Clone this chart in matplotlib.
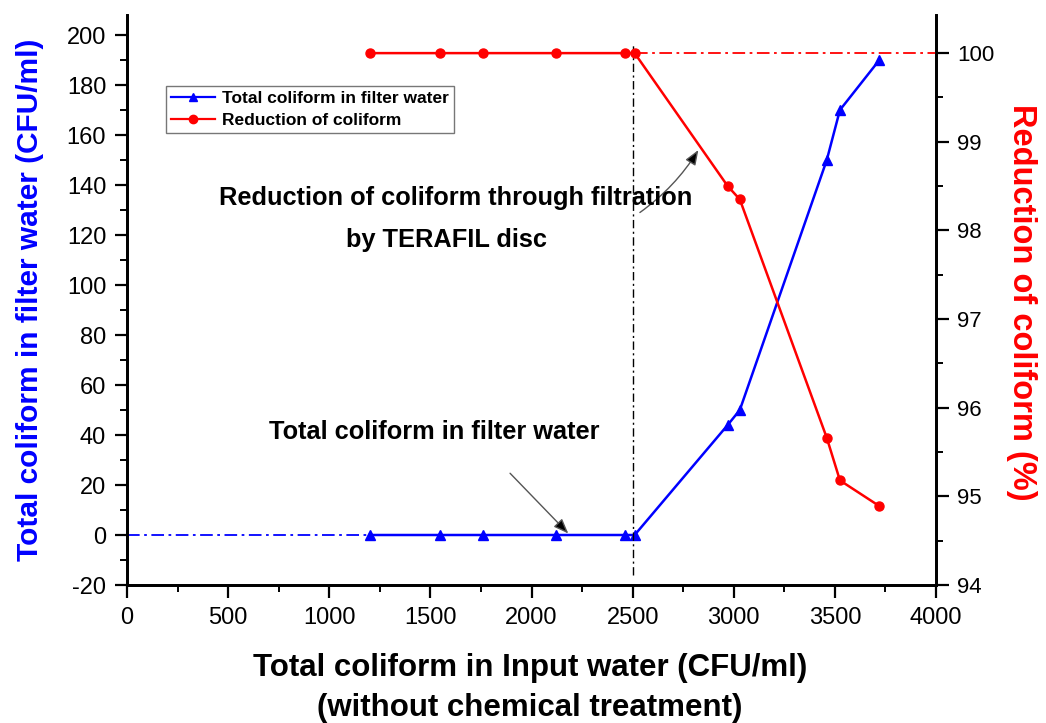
import matplotlib
matplotlib.use("Agg")
import matplotlib.pyplot as plt
from matplotlib.ticker import MultipleLocator
from matplotlib import font_manager

# ---- data ----
input_cfu = [1200, 1550, 1760, 2120, 2460, 2510, 2970, 3030, 3460, 3525, 3720]
filter_cfu = [0, 0, 0, 0, 0, 0, 44, 50, 150, 170, 190]
reduction_pct = [100, 100, 100, 100, 100, 100, 98.50, 98.35, 95.66, 95.18, 94.89]
xticks = [0, 500, 1000, 1500, 2000, 2500, 3000, 3500, 4000]
left_ticks = [-20, 0, 20, 40, 60, 80, 100, 120, 140, 160, 180, 200]
right_ticks = [94, 95, 96, 97, 98, 99, 100]
threshold_x = 2500

names = {f.name for f in font_manager.fontManager.ttflist}
BASE = "Liberation Sans" if "Liberation Sans" in names else "DejaVu Sans"
NARROW = "Liberation Sans Narrow" if "Liberation Sans Narrow" in names else BASE
plt.rcParams["font.family"] = [BASE, "DejaVu Sans"]
plt.rcParams["axes.unicode_minus"] = False

W, H = 1046, 723
fig = plt.figure(figsize=(W / 100, H / 100), dpi=100)
ax = fig.add_axes([127 / W, 1 - 585 / H, (936 - 127) / W, (585 - 15) / H])
ax2 = ax.twinx()

blue = "#0000ff"
red = "#ff0000"

# left axis
ax.set_xlim(0, 4000)
ax.set_ylim(-20, 208)
ax.plot([0, input_cfu[0]], [filter_cfu[0], filter_cfu[0]], color=blue, lw=1.3,
        dashes=(7, 2.5, 1.5, 2.5))
l1, = ax.plot(input_cfu, filter_cfu, color=blue, lw=1.8, marker="^", ms=7,
              label="Total coliform in filter water")
ax.plot([threshold_x, threshold_x], [-16, 196], color="black", lw=1.0,
        dashes=(6, 2.5, 1.5, 2.5))

# right axis
ax2.set_ylim(94, 100.43)
ax2.plot([input_cfu[5], 4000], [reduction_pct[5], reduction_pct[5]], color=red, lw=1.3,
         dashes=(7, 2.5, 1.5, 2.5))
l2, = ax2.plot(input_cfu, reduction_pct, color=red, lw=1.8, marker="o", ms=6.5,
               label="Reduction of coliform")

for a in (ax, ax2):
    a.spines["top"].set_visible(False)
    for s in a.spines.values():
        s.set_linewidth(2.0)

ax.set_xticks(xticks)
ax.xaxis.set_minor_locator(MultipleLocator(250))
ax.set_yticks(left_ticks)
ax.yaxis.set_minor_locator(MultipleLocator(10))
ax2.set_yticks(right_ticks)
ax2.yaxis.set_minor_locator(MultipleLocator(0.5))

ax.tick_params(axis="both", which="major", direction="out", length=9, width=1.6, pad=6)
ax.tick_params(axis="both", which="minor", direction="out", length=5, width=1.4)
ax2.tick_params(axis="y", which="major", direction="out", length=9, width=1.6, pad=6,
                labelsize=16)
ax2.tick_params(axis="y", which="minor", direction="out", length=5, width=1.4)
ax.tick_params(axis="y", labelsize=17)
for lab in ax.get_xticklabels():
    lab.set_fontfamily(NARROW)
    lab.set_fontsize(17)
ax.tick_params(axis="x", pad=7)

# axis labels
fig.text(30 / W, 1 - 300 / H, "Total coliform in filter water (CFU/ml)", color=blue,
         fontsize=21.5, fontweight="bold", rotation=90, ha="center", va="center")
fig.text(1021 / W, 1 - 302 / H, "Reduction of coliform (%)", color=red,
         fontsize=23.5, fontweight="bold", rotation=270, ha="center", va="center")
fig.text(530 / W, 1 - 668 / H, "Total coliform in Input water (CFU/ml)", color="black",
         fontsize=22.5, fontweight="bold", ha="center", va="center", family=NARROW)
fig.text(530 / W, 1 - 708 / H, "(without chemical treatment)", color="black",
         fontsize=22.5, fontweight="bold", ha="center", va="center", family=NARROW)

# annotations text
fig.text(456 / W, 1 - 198 / H, "Reduction of coliform through filtration",
         fontsize=18.3, fontweight="bold", ha="center", va="center")
fig.text(447 / W, 1 - 240 / H, "by TERAFIL disc",
         fontsize=18.3, fontweight="bold", ha="center", va="center")
fig.text(434 / W, 1 - 432 / H, "Total coliform in filter water",
         fontsize=18.3, fontweight="bold", ha="center", va="center")

arrow_kw = dict(arrowstyle="-|>,head_length=0.9,head_width=0.35", ec="#555555",
                fc="black", lw=1.0, shrinkA=0, shrinkB=0)
ax.annotate("", xy=(2825, 154), xytext=(2536, 129),
            arrowprops=dict(connectionstyle="arc3,rad=0.1", **arrow_kw))
ax.annotate("", xy=(2182, 0.6), xytext=(1894, 24.7),
            arrowprops=dict(connectionstyle="arc3,rad=0.0", **arrow_kw))

leg = ax2.legend(handles=[l1, l2], loc="upper left", bbox_to_anchor=(166 / W, 1 - 86 / H),
                 bbox_transform=fig.transFigure, prop=dict(size=12.5, weight="bold"),
                 frameon=True, fancybox=False, edgecolor="#555555", handlelength=2.5,
                 borderpad=0.3, labelspacing=0.35, handletextpad=0.4, borderaxespad=0)
leg.get_frame().set_linewidth(1.0)
for h in leg.legend_handles:
    h.set_markersize(6)
    h.set_linewidth(1.6)

fig.savefig("out.png", dpi=100)
